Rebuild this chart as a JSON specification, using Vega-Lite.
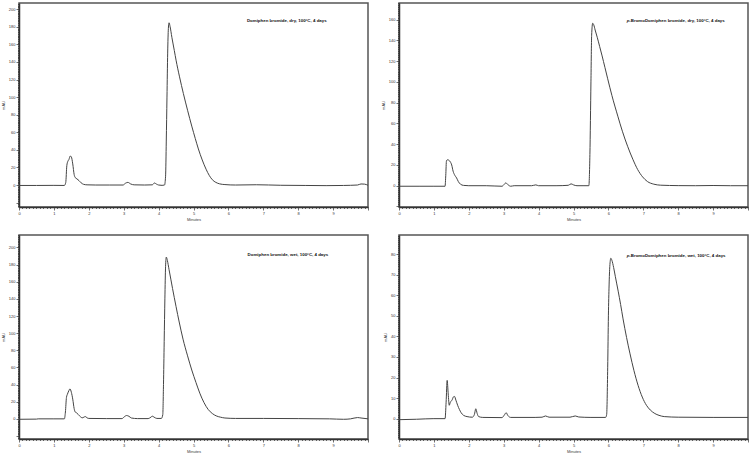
{
  "$schema": "https://vega.github.io/schema/vega-lite/v6.json",
  "padding": {"left": 0, "top": 0, "right": 2, "bottom": 0},
  "background": "white",
  "datasets": {
    "p1": [
      {"t":0,"mAU":-0.5},{"t":0.5,"mAU":-0.5},{"t":1.0,"mAU":-0.4},{"t":1.3,"mAU":-0.5},{"t":1.34,"mAU":3},{"t":1.37,"mAU":22},{"t":1.4,"mAU":27},{"t":1.43,"mAU":29},{"t":1.47,"mAU":33},{"t":1.5,"mAU":32},{"t":1.54,"mAU":24},{"t":1.58,"mAU":12},{"t":1.61,"mAU":8.5},{"t":1.66,"mAU":7},{"t":1.72,"mAU":5},{"t":1.78,"mAU":2.5},{"t":1.85,"mAU":0.8},{"t":1.95,"mAU":0.2},{"t":2.2,"mAU":0},{"t":2.6,"mAU":0},{"t":2.98,"mAU":0},{"t":3.05,"mAU":2},{"t":3.12,"mAU":3},{"t":3.2,"mAU":1.2},{"t":3.3,"mAU":0.2},{"t":3.6,"mAU":0},{"t":3.82,"mAU":0.2},{"t":3.88,"mAU":2.3},{"t":3.94,"mAU":1},{"t":4.0,"mAU":0},{"t":4.1,"mAU":-0.4},{"t":4.17,"mAU":0},{"t":4.2,"mAU":10},{"t":4.22,"mAU":50},{"t":4.24,"mAU":100},{"t":4.26,"mAU":150},{"t":4.28,"mAU":178},{"t":4.3,"mAU":184.5},{"t":4.33,"mAU":180},{"t":4.38,"mAU":168},{"t":4.45,"mAU":153},{"t":4.5,"mAU":142},{"t":4.6,"mAU":123},{"t":4.71,"mAU":104},{"t":4.83,"mAU":85},{"t":4.95,"mAU":67},{"t":5.05,"mAU":53},{"t":5.14,"mAU":41},{"t":5.25,"mAU":28.5},{"t":5.36,"mAU":18},{"t":5.45,"mAU":11},{"t":5.54,"mAU":6},{"t":5.64,"mAU":3},{"t":5.75,"mAU":1.3},{"t":5.9,"mAU":0.5},{"t":6.2,"mAU":0},{"t":6.8,"mAU":0.3},{"t":7.5,"mAU":-0.3},{"t":8.2,"mAU":-0.5},{"t":8.8,"mAU":-0.7},{"t":9.3,"mAU":-0.5},{"t":9.7,"mAU":0},{"t":9.8,"mAU":1.2},{"t":9.9,"mAU":1},{"t":10,"mAU":-0.3}
    ],
    "p2": [
      {"t":0,"mAU":-0.5},{"t":0.6,"mAU":-0.5},{"t":1.0,"mAU":-0.5},{"t":1.32,"mAU":-0.5},{"t":1.34,"mAU":10},{"t":1.36,"mAU":24},{"t":1.39,"mAU":25},{"t":1.43,"mAU":24.5},{"t":1.47,"mAU":23},{"t":1.51,"mAU":20},{"t":1.55,"mAU":14},{"t":1.6,"mAU":10},{"t":1.65,"mAU":7.5},{"t":1.7,"mAU":4},{"t":1.76,"mAU":1.5},{"t":1.85,"mAU":0.3},{"t":2.0,"mAU":0},{"t":2.5,"mAU":0},{"t":2.95,"mAU":-0.5},{"t":3.02,"mAU":1.5},{"t":3.06,"mAU":2.8},{"t":3.12,"mAU":1},{"t":3.2,"mAU":-0.5},{"t":3.3,"mAU":0},{"t":3.8,"mAU":0},{"t":3.92,"mAU":0.8},{"t":4.0,"mAU":0},{"t":4.5,"mAU":0},{"t":4.85,"mAU":0.4},{"t":4.93,"mAU":1.8},{"t":5.0,"mAU":0.8},{"t":5.1,"mAU":0},{"t":5.3,"mAU":0},{"t":5.44,"mAU":0},{"t":5.47,"mAU":30},{"t":5.5,"mAU":100},{"t":5.52,"mAU":145},{"t":5.55,"mAU":156.5},{"t":5.58,"mAU":155},{"t":5.62,"mAU":150},{"t":5.68,"mAU":143},{"t":5.75,"mAU":134},{"t":5.82,"mAU":125},{"t":5.9,"mAU":114},{"t":5.98,"mAU":103},{"t":6.1,"mAU":87},{"t":6.27,"mAU":67},{"t":6.4,"mAU":52.5},{"t":6.55,"mAU":38},{"t":6.7,"mAU":25.5},{"t":6.84,"mAU":15.5},{"t":6.98,"mAU":8.5},{"t":7.12,"mAU":4},{"t":7.3,"mAU":1.5},{"t":7.5,"mAU":0.5},{"t":8,"mAU":0.1},{"t":8.5,"mAU":0},{"t":9,"mAU":0.2},{"t":9.5,"mAU":0},{"t":10,"mAU":0}
    ],
    "p3": [
      {"t":0,"mAU":-0.5},{"t":0.5,"mAU":-0.3},{"t":0.55,"mAU":0},{"t":1.0,"mAU":0},{"t":1.3,"mAU":0},{"t":1.33,"mAU":8},{"t":1.36,"mAU":25},{"t":1.39,"mAU":29},{"t":1.43,"mAU":33},{"t":1.46,"mAU":35},{"t":1.5,"mAU":31},{"t":1.54,"mAU":23},{"t":1.58,"mAU":12},{"t":1.61,"mAU":8},{"t":1.65,"mAU":7},{"t":1.7,"mAU":5},{"t":1.76,"mAU":2.5},{"t":1.81,"mAU":1.2},{"t":1.86,"mAU":2},{"t":1.9,"mAU":2.7},{"t":1.95,"mAU":1.2},{"t":2.0,"mAU":0.5},{"t":2.5,"mAU":0.3},{"t":2.95,"mAU":0.3},{"t":3.02,"mAU":2.5},{"t":3.08,"mAU":3.9},{"t":3.15,"mAU":3},{"t":3.22,"mAU":1},{"t":3.4,"mAU":0.3},{"t":3.7,"mAU":0.3},{"t":3.78,"mAU":2},{"t":3.82,"mAU":3.1},{"t":3.87,"mAU":2},{"t":3.95,"mAU":0.5},{"t":4.08,"mAU":0.5},{"t":4.12,"mAU":5},{"t":4.14,"mAU":40},{"t":4.16,"mAU":90},{"t":4.18,"mAU":140},{"t":4.2,"mAU":178},{"t":4.22,"mAU":188.7},{"t":4.25,"mAU":185},{"t":4.3,"mAU":174},{"t":4.35,"mAU":163},{"t":4.4,"mAU":152},{"t":4.5,"mAU":131},{"t":4.59,"mAU":113},{"t":4.7,"mAU":93},{"t":4.83,"mAU":73.5},{"t":4.95,"mAU":57},{"t":5.07,"mAU":42.5},{"t":5.18,"mAU":30},{"t":5.3,"mAU":19},{"t":5.42,"mAU":11},{"t":5.54,"mAU":6.2},{"t":5.65,"mAU":3.5},{"t":5.77,"mAU":2},{"t":5.9,"mAU":1},{"t":6.2,"mAU":0.5},{"t":7,"mAU":0.5},{"t":8,"mAU":0.3},{"t":8.9,"mAU":0},{"t":9.3,"mAU":-0.5},{"t":9.5,"mAU":0},{"t":9.7,"mAU":1.5},{"t":9.8,"mAU":1},{"t":10,"mAU":0}
    ],
    "p4": [
      {"t":0,"mAU":-0.5},{"t":0.5,"mAU":-0.3},{"t":1.0,"mAU":0},{"t":1.32,"mAU":0},{"t":1.35,"mAU":8},{"t":1.38,"mAU":18.6},{"t":1.41,"mAU":12},{"t":1.44,"mAU":6.5},{"t":1.47,"mAU":8},{"t":1.52,"mAU":9},{"t":1.56,"mAU":10.6},{"t":1.59,"mAU":10.8},{"t":1.63,"mAU":9},{"t":1.68,"mAU":6.5},{"t":1.73,"mAU":4.5},{"t":1.78,"mAU":2.9},{"t":1.85,"mAU":1.6},{"t":1.95,"mAU":1.0},{"t":2.1,"mAU":0.7},{"t":2.16,"mAU":2},{"t":2.2,"mAU":4.8},{"t":2.24,"mAU":2.5},{"t":2.28,"mAU":1},{"t":2.4,"mAU":0.6},{"t":2.95,"mAU":0.5},{"t":3.02,"mAU":1.8},{"t":3.07,"mAU":2.9},{"t":3.12,"mAU":1.5},{"t":3.2,"mAU":0.6},{"t":3.9,"mAU":0.6},{"t":4.1,"mAU":0.7},{"t":4.2,"mAU":1.3},{"t":4.3,"mAU":0.7},{"t":4.9,"mAU":0.7},{"t":5.05,"mAU":1.3},{"t":5.15,"mAU":0.8},{"t":5.5,"mAU":0.6},{"t":5.92,"mAU":0.6},{"t":5.95,"mAU":2},{"t":5.98,"mAU":25},{"t":6.0,"mAU":50},{"t":6.02,"mAU":65},{"t":6.04,"mAU":74},{"t":6.07,"mAU":78},{"t":6.1,"mAU":77},{"t":6.15,"mAU":73.5},{"t":6.2,"mAU":69},{"t":6.28,"mAU":62},{"t":6.35,"mAU":55.5},{"t":6.42,"mAU":48.5},{"t":6.52,"mAU":39.5},{"t":6.62,"mAU":31.5},{"t":6.73,"mAU":23.5},{"t":6.85,"mAU":16.2},{"t":6.97,"mAU":10.5},{"t":7.09,"mAU":6.5},{"t":7.2,"mAU":4.2},{"t":7.33,"mAU":2.5},{"t":7.45,"mAU":1.6},{"t":7.6,"mAU":1},{"t":8,"mAU":0.7},{"t":9,"mAU":0.6},{"t":10,"mAU":0.6}
    ]
  },
  "columns": 2,
  "spacing": {"row": 10, "column": 9},
  "concat": [
    {
      "width": 349, "height": 204,
      "layer": [
        {
          "data": {"name": "p1"},
          "mark": {"type": "line", "interpolate": "monotone", "color": "#444", "strokeWidth": 1},
          "encoding": {
            "x": {"field": "t", "type": "quantitative", "scale": {"domain": [0, 10], "nice": false},
                  "axis": {"title": "Minutes", "tickCount": 100, "labelExpr": "abs(datum.value - round(datum.value)) < 0.001 && datum.value < 9.9 ? round(datum.value) + '' : ''", "tickSize": {"condition": {"test": "abs(datum.value - round(datum.value)) < 0.001", "value": 3}, "value": 1.5}}},
            "y": {"field": "mAU", "type": "quantitative", "scale": {"domain": [-25, 207], "nice": false},
                  "axis": {"title": "mAU", "tickCount": 100, "labelExpr": "datum.value >= 0 && datum.value % 20 === 0 ? datum.label : ''", "tickSize": {"condition": {"test": "datum.value % 20 === 0", "value": 3}, "value": 1.5}}}
          }
        },
        {
          "data": {"values": [{"label": "Domiphen bromide, dry, 100°C, 4 days"}]},
          "mark": {"type": "text", "font": "Liberation Sans", "fontWeight": "bold", "fontSize": 4.4, "align": "left", "baseline": "middle", "color": "#111"},
          "encoding": {"x": {"datum": 6.53}, "y": {"datum": 186.7}, "text": {"field": "label"}}
        }
      ]
    },
    {
      "width": 349, "height": 204,
      "layer": [
        {
          "data": {"name": "p2"},
          "mark": {"type": "line", "interpolate": "monotone", "color": "#444", "strokeWidth": 1},
          "encoding": {
            "x": {"field": "t", "type": "quantitative", "scale": {"domain": [0, 10], "nice": false},
                  "axis": {"title": "Minutes", "tickCount": 100, "labelExpr": "abs(datum.value - round(datum.value)) < 0.001 && datum.value < 9.9 ? round(datum.value) + '' : ''", "tickSize": {"condition": {"test": "abs(datum.value - round(datum.value)) < 0.001", "value": 3}, "value": 1.5}}},
            "y": {"field": "mAU", "type": "quantitative", "scale": {"domain": [-20.5, 176], "nice": false},
                  "axis": {"title": "mAU", "tickCount": 100, "labelExpr": "datum.value >= 0 && datum.value % 20 === 0 ? datum.label : ''", "tickSize": {"condition": {"test": "datum.value % 20 === 0", "value": 3}, "value": 1.5}}}
          }
        },
        {
          "data": {"values": [{"label": "p"}]},
          "mark": {"type": "text", "font": "Liberation Sans", "fontWeight": "bold", "fontStyle": "italic", "fontSize": 4.4, "align": "right", "baseline": "middle", "color": "#111"},
          "encoding": {"x": {"datum": 6.6}, "y": {"datum": 158.7}, "text": {"field": "label"}}
        },
        {
          "data": {"values": [{"label": "-BromoDomiphen bromide, dry, 100°C, 4 days"}]},
          "mark": {"type": "text", "font": "Liberation Sans", "fontWeight": "bold", "fontSize": 4.4, "align": "left", "baseline": "middle", "color": "#111"},
          "encoding": {"x": {"datum": 6.6}, "y": {"datum": 158.7}, "text": {"field": "label"}}
        }
      ]
    },
    {
      "width": 349, "height": 204,
      "layer": [
        {
          "data": {"name": "p3"},
          "mark": {"type": "line", "interpolate": "monotone", "color": "#444", "strokeWidth": 1},
          "encoding": {
            "x": {"field": "t", "type": "quantitative", "scale": {"domain": [0, 10], "nice": false},
                  "axis": {"title": "Minutes", "tickCount": 100, "labelExpr": "abs(datum.value - round(datum.value)) < 0.001 && datum.value < 9.9 ? round(datum.value) + '' : ''", "tickSize": {"condition": {"test": "abs(datum.value - round(datum.value)) < 0.001", "value": 3}, "value": 1.5}}},
            "y": {"field": "mAU", "type": "quantitative", "scale": {"domain": [-23.5, 214.5], "nice": false},
                  "axis": {"title": "mAU", "tickCount": 100, "labelExpr": "datum.value >= 0 && datum.value % 20 === 0 ? datum.label : ''", "tickSize": {"condition": {"test": "datum.value % 20 === 0", "value": 3}, "value": 1.5}}}
          }
        },
        {
          "data": {"values": [{"label": "Domiphen bromide, wet, 100°C, 4 days"}]},
          "mark": {"type": "text", "font": "Liberation Sans", "fontWeight": "bold", "fontSize": 4.4, "align": "left", "baseline": "middle", "color": "#111"},
          "encoding": {"x": {"datum": 6.55}, "y": {"datum": 191.4}, "text": {"field": "label"}}
        }
      ]
    },
    {
      "width": 349, "height": 204,
      "layer": [
        {
          "data": {"name": "p4"},
          "mark": {"type": "line", "interpolate": "monotone", "color": "#444", "strokeWidth": 1},
          "encoding": {
            "x": {"field": "t", "type": "quantitative", "scale": {"domain": [0, 10], "nice": false},
                  "axis": {"title": "Minutes", "tickCount": 100, "labelExpr": "abs(datum.value - round(datum.value)) < 0.001 && datum.value < 9.9 ? round(datum.value) + '' : ''", "tickSize": {"condition": {"test": "abs(datum.value - round(datum.value)) < 0.001", "value": 3}, "value": 1.5}}},
            "y": {"field": "mAU", "type": "quantitative", "scale": {"domain": [-9.9, 89.3], "nice": false},
                  "axis": {"title": "mAU", "tickCount": 100, "labelExpr": "datum.value >= 0 && datum.value % 10 === 0 ? datum.label : ''", "tickSize": {"condition": {"test": "datum.value % 10 === 0", "value": 3}, "value": 1.5}}}
          }
        },
        {
          "data": {"values": [{"label": "p"}]},
          "mark": {"type": "text", "font": "Liberation Sans", "fontWeight": "bold", "fontStyle": "italic", "fontSize": 4.4, "align": "right", "baseline": "middle", "color": "#111"},
          "encoding": {"x": {"datum": 6.6}, "y": {"datum": 78.9}, "text": {"field": "label"}}
        },
        {
          "data": {"values": [{"label": "-BromoDomiphen bromide, wet, 100°C, 4 days"}]},
          "mark": {"type": "text", "font": "Liberation Sans", "fontWeight": "bold", "fontSize": 4.4, "align": "left", "baseline": "middle", "color": "#111"},
          "encoding": {"x": {"datum": 6.6}, "y": {"datum": 78.9}, "text": {"field": "label"}}
        }
      ]
    }
  ],
  "config": {
    "view": {"stroke": "#555", "strokeWidth": 1.5},
    "axis": {
      "grid": false,
      "labelFont": "Liberation Sans", "labelFontSize": 4, "labelColor": "#333", "labelPadding": 1,
      "labelFlush": false, "labelOverlap": false,
      "titleFont": "Liberation Sans", "titleFontSize": 4, "titleFontWeight": "normal", "titleColor": "#333",
      "domainColor": "#333", "domainWidth": 1.5, "tickColor": "#333", "tickWidth": 0.7
    },
    "axisX": {"titlePadding": 2},
    "axisY": {"titlePadding": 3}
  }
}
